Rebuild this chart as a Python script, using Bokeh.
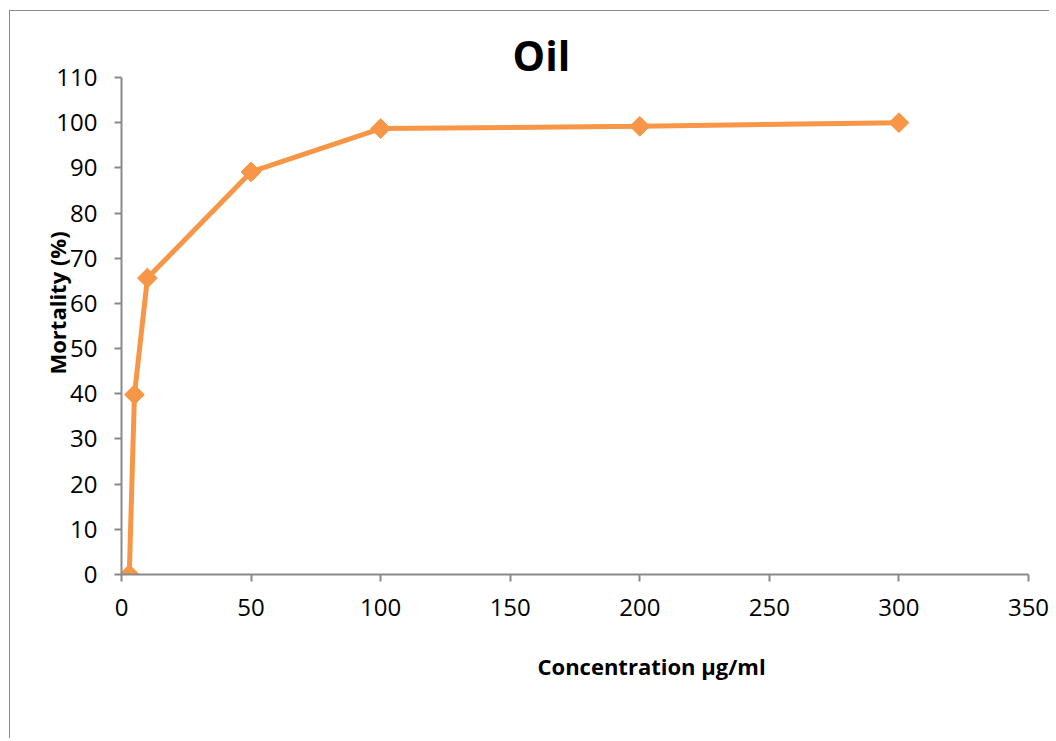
import numpy as np
from bokeh.plotting import figure
from bokeh.models import Range1d, FixedTicker, Title
from bokeh.embed import file_html
from bokeh.resources import INLINE

concentration = [3, 5, 10, 50, 100, 200, 300]
mortality = [0, 39.8, 65.6, 89.1, 98.7, 99.2, 100]
x_ticks = [0, 50, 100, 150, 200, 250, 300, 350]
y_ticks = [0, 10, 20, 30, 40, 50, 60, 70, 80, 90, 100, 110]

FONT = "Open Sans"
ORANGE = "#F79646"
AXIS = "#898989"

W, H = 1040, 728
p = figure(width=W, height=H, output_backend="svg", toolbar_location=None,
           x_range=Range1d(0, 350), y_range=Range1d(0, 110),
           min_border_left=111, min_border_top=66, min_border_right=22,
           min_border_bottom=H - 66 - 497)
p.styles = {"border-left": "1px solid #8c8c8c", "border-top": "1px solid #8c8c8c",
            "margin-left": "9px", "margin-top": "10px"}
p.outline_line_color = None
p.xgrid.visible = False
p.ygrid.visible = False

for ax in (p.xaxis[0], p.yaxis[0]):
    ax.axis_line_color = AXIS
    ax.axis_line_width = 2
    ax.major_tick_line_color = AXIS
    ax.major_tick_line_width = 2
    ax.major_tick_in = 0
    ax.minor_tick_line_color = None
    ax.major_label_text_font = FONT
    ax.major_label_text_font_size = "24px"
    ax.major_label_text_color = "#000000"

p.xaxis.ticker = FixedTicker(ticks=x_ticks)
p.yaxis.ticker = FixedTicker(ticks=y_ticks)
p.xaxis.major_tick_out = 7
p.yaxis.major_tick_out = 7
p.xaxis.major_label_standoff = 17
p.yaxis.major_label_standoff = 17

p.line(concentration, mortality, line_color=ORANGE, line_width=5)
p.scatter(concentration, mortality, marker="square", angle=np.pi / 4, size=14,
          fill_color=ORANGE, line_color=ORANGE)

p.add_layout(Title(text="Oil", text_font=FONT, text_font_style="bold",
                   text_font_size="41px", text_color="#000000", align="left",
                   offset=391, standoff=-11), "above")
p.add_layout(Title(text="Concentration µg/ml", text_font=FONT, text_font_style="bold",
                   text_font_size="22px", text_color="#000000", align="left",
                   offset=416, standoff=60), "below")
p.add_layout(Title(text="Mortality (%)", text_font=FONT, text_font_style="bold",
                   text_font_size="22px", text_color="#000000", align="left",
                   offset=200, standoff=-37), "left")

open("out.html", "w").write(file_html(p, INLINE))
